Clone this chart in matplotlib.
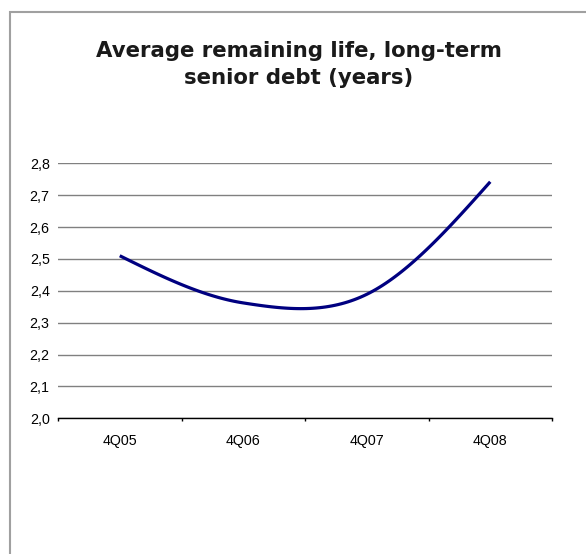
import matplotlib
matplotlib.use("Agg")
import matplotlib.pyplot as plt
from matplotlib.patches import Rectangle
from matplotlib.ticker import FuncFormatter, FixedLocator
import numpy as np

TITLE = "Average remaining life, long-term\nsenior debt (years)"
quarters = ["4Q05", "4Q06", "4Q07", "4Q08"]
remaining_life = [2.51, 2.362, 2.389, 2.742]
y_ticks = [2.0, 2.1, 2.2, 2.3, 2.4, 2.5, 2.6, 2.7, 2.8]


def smooth(xs, ys, n=40):
    # Excel-style smoothed line: cubic Hermite with Catmull-Rom tangents
    xs = np.asarray(xs, float)
    ys = np.asarray(ys, float)
    m = np.zeros_like(ys)
    m[1:-1] = (ys[2:] - ys[:-2]) / 2
    m[0] = (3 * (ys[1] - ys[0]) - m[1]) / 2
    m[-1] = (3 * (ys[-1] - ys[-2]) - m[-2]) / 2
    out_x, out_y = [], []
    for i in range(len(xs) - 1):
        t = np.linspace(0, 1, n)
        h00 = 2 * t**3 - 3 * t**2 + 1
        h10 = t**3 - 2 * t**2 + t
        h01 = -2 * t**3 + 3 * t**2
        h11 = t**3 - t**2
        out_x.append(xs[i] + t * (xs[i + 1] - xs[i]))
        out_y.append(h00 * ys[i] + h10 * m[i] + h01 * ys[i + 1] + h11 * m[i + 1])
    return np.concatenate(out_x), np.concatenate(out_y)


fig = plt.figure(figsize=(5.86, 5.54), dpi=100)
W, H = 586, 554
ax = fig.add_axes([58 / W, 1 - 418.3 / H, (552 - 58) / W, (418.3 - 163.3) / H])

# outer chart border
fig.patches.append(Rectangle((10 / W, -0.05), 1.2, 1 - 12 / H + 0.05,
                             transform=fig.transFigure, fill=False,
                             edgecolor="#a0a0a0", linewidth=1.5))

x = np.arange(len(quarters))
sx, sy = smooth(x, remaining_life)
ax.plot(sx, sy, color="#000080", linewidth=2.3, solid_capstyle="butt", zorder=3)

ax.set_xlim(-0.5, len(quarters) - 0.5)
ax.set_ylim(2.0, 2.8)
ax.set_yticks(y_ticks)
ax.yaxis.set_major_formatter(FuncFormatter(lambda v, p: f"{v:.1f}".replace(".", ",")))
ax.grid(axis="y", color="#808080", linewidth=1.0)
ax.set_axisbelow(True)

ax.set_xticks(x)
ax.set_xticklabels(quarters)
ax.xaxis.set_minor_locator(FixedLocator(np.arange(len(quarters) + 1) - 0.5))
ax.tick_params(axis="x", which="major", length=0, pad=11.5, labelsize=10.3)
ax.tick_params(axis="x", which="minor", length=2.5, width=1, color="black")
ax.tick_params(axis="y", length=0, pad=6, labelsize=10.3)
for lab in ax.get_xticklabels() + ax.get_yticklabels():
    lab.set_fontfamily("Liberation Sans")

for s in ["top", "right", "left"]:
    ax.spines[s].set_visible(False)
ax.spines["bottom"].set_color("black")
ax.spines["bottom"].set_linewidth(1.0)

fig.text(0.51, 1 - 64.5 / H, TITLE, ha="center", va="center",
         fontsize=15.3, fontweight="bold", color="#1a1a1a", linespacing=1.42)

fig.savefig("out.png", dpi=100)
